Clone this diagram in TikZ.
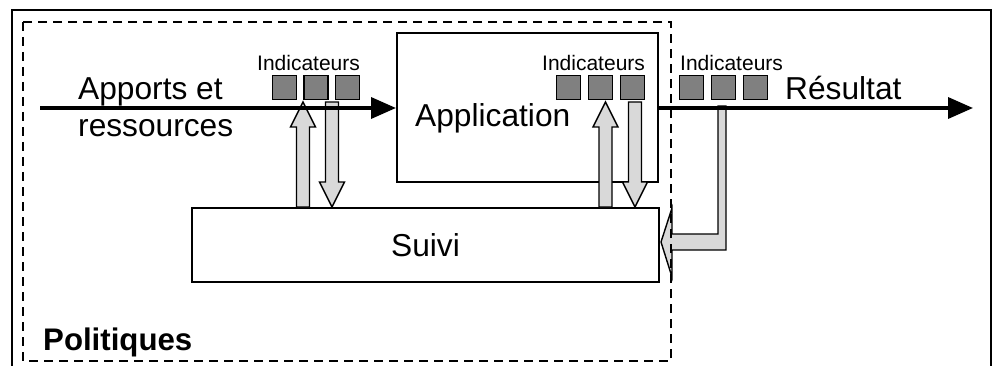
\documentclass[tikz,border=0pt]{standalone}
\usepackage{fontspec}
\setmainfont{Liberation Sans}
\usetikzlibrary{arrows.meta,calc}
\definecolor{indgray}{HTML}{808080}
\definecolor{arrowgray}{HTML}{D9D9D9}
% vertical hollow block arrow: #1 tail, #2 tip, #3 = 1 upward, -1 downward
\newcommand\vblockarrow[3]{%
  \filldraw[blockarrow]
    ($(#1)+(-6.5,0)$) -- ($(#2)+(-6.5,{25*(#3)})$) -- ($(#2)+(-12.5,{25*(#3)})$)
    -- (#2) -- ($(#2)+(12.5,{25*(#3)})$) -- ($(#2)+(6.5,{25*(#3)})$)
    -- ($(#1)+(6.5,0)$) -- cycle;}
\begin{document}
\begin{tikzpicture}[x=1pt,y=-1pt,
  framebox/.style={draw, line width=2pt, inner sep=0pt, fill=white},
  indsq/.style={draw, line width=1.3pt, fill=indgray, minimum size=24pt, inner sep=0pt},
  bigtext/.style={font=\fontsize{31.7}{38}\selectfont, inner sep=0pt},
  smalltext/.style={font=\fontsize{21}{25}\selectfont, inner sep=0pt},
  flow/.style={line width=3.5pt, -{Triangle[length=25pt,width=21pt]}},
  blockarrow/.style={draw, fill=arrowgray, line width=1.4pt, line join=miter},
  policyframe/.style={draw, line width=2pt, dash pattern=on 9pt off 6pt}]
\useasboundingbox (0,0) rectangle (992,366);

% boxes
\node[framebox, minimum width=261pt, minimum height=149pt] (app) at (527.5,107.5) {};
\node[framebox, minimum width=467pt, minimum height=74pt,
      font=\fontsize{31.7}{38}\selectfont] (suivi) at (425.5,245) {Suivi};

% exchanges between indicators and monitoring
\coordinate (u1tip) at (303,102);
\coordinate (u1tail) at (u1tip |- suivi.north);
\coordinate (d1tail) at (332,102);
\coordinate (d1tip) at (d1tail |- suivi.north);
\coordinate (u2tip) at (605.5,102);
\coordinate (u2tail) at (u2tip |- suivi.north);
\coordinate (d2tail) at (635,102);
\coordinate (d2tip) at (d2tail |- suivi.north);
\vblockarrow{u1tail}{u1tip}{1}
\vblockarrow{d1tail}{d1tip}{-1}
\vblockarrow{u2tail}{u2tip}{1}
\vblockarrow{d2tail}{d2tip}{-1}

% feedback from the result to monitoring
\coordinate (lstart) at (722,106);
\coordinate (ltip) at (661,242);
\coordinate (lcorner) at (lstart |- ltip);
\filldraw[blockarrow] ($(lstart)+(-4,0)$) -- ($(lcorner)+(-4,-8)$) -- ($(ltip)+(11,-8)$)
  -- ($(ltip)+(11,-34)$) -- (ltip) -- ($(ltip)+(11,35)$) -- ($(ltip)+(11,8)$)
  -- ($(lcorner)+(4,8)$) -- ($(lstart)+(4,0)$) -- cycle;

% main flow
\coordinate (start) at (40,108);
\coordinate (end) at (973,108);
\draw[flow] (start) -- (start -| app.west);
\draw[flow] (app.east |- end) -- (end);

% indicator squares
\node[indsq] (s11) at (284.5,87.5) {};
\node[indsq] (s12) at (316,87.5) {};
\node[indsq] (s13) at (347.5,87.5) {};
\node[indsq] (s21) at (568.5,87.5) {};
\node[indsq] (s22) at (600.5,87.5) {};
\node[indsq] (s23) at (632.5,87.5) {};
\node[indsq] (s31) at (691.5,87.5) {};
\node[indsq] (s32) at (723.5,87.5) {};
\node[indsq] (s33) at (755.5,87.5) {};

% labels
\node[smalltext, anchor=base west] (ind1) at (257,71) {Indicateurs};
\node[smalltext, anchor=base west] (ind2) at (542,71) {Indicateurs};
\node[smalltext, anchor=base west] (ind3) at (680,71) {Indicateurs};
\node[bigtext, anchor=base west] (apports) at (78,100) {Apports et};
\node[bigtext, anchor=base west] (ressources) at (78,137) {ressources};
\node[bigtext, anchor=base west] (applabel) at (415,127) {Application};
\node[bigtext, anchor=base west] (resultat) at (785,100) {Résultat};
\node[bigtext, font=\fontsize{31.2}{38}\selectfont\bfseries, anchor=base west]
  (politiques) at (43,350) {Politiques};

% frames
\draw[policyframe] (23,22) rectangle (671,361);
\draw[line width=2pt] (12,10) rectangle (991,380);
\end{tikzpicture}
\end{document}
